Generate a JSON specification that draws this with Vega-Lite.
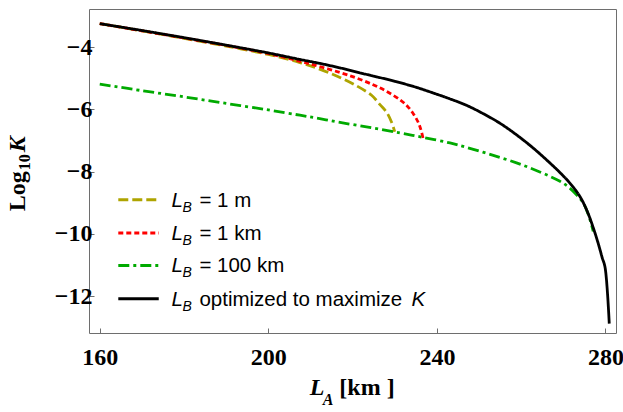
{
  "$schema": "https://vega.github.io/schema/vega-lite/v6.json",
  "width": 527,
  "height": 324,
  "autosize": "none",
  "padding": {"left": 89, "top": 9, "right": 7, "bottom": 79},
  "background": "white",
  "config": {
    "view": {"stroke": "#6e6e6e", "strokeWidth": 1},
    "axis": {
      "domain": false,
      "grid": false,
      "ticks": true,
      "tickSize": -5,
      "tickColor": "#6e6e6e",
      "tickWidth": 1,
      "labelFont": "Liberation Serif",
      "labelFontWeight": "bold",
      "labelFontSize": 24,
      "labelColor": "black",
      "title": null
    }
  },
  "datasets": {
    "curves": [
      {"series": "1 m", "LA": 160, "logK": -3.25},
      {"series": "1 m", "LA": 170, "logK": -3.48},
      {"series": "1 m", "LA": 180, "logK": -3.72},
      {"series": "1 m", "LA": 190, "logK": -3.97},
      {"series": "1 m", "LA": 200, "logK": -4.24},
      {"series": "1 m", "LA": 207.5, "logK": -4.5},
      {"series": "1 m", "LA": 212, "logK": -4.7},
      {"series": "1 m", "LA": 217, "logK": -4.98},
      {"series": "1 m", "LA": 221, "logK": -5.25},
      {"series": "1 m", "LA": 224.5, "logK": -5.55},
      {"series": "1 m", "LA": 226.5, "logK": -5.85},
      {"series": "1 m", "LA": 228.1, "logK": -6.1},
      {"series": "1 m", "LA": 229.2, "logK": -6.4},
      {"series": "1 m", "LA": 230.0, "logK": -6.72},

      {"series": "1 km", "LA": 160, "logK": -3.25},
      {"series": "1 km", "LA": 170, "logK": -3.48},
      {"series": "1 km", "LA": 180, "logK": -3.71},
      {"series": "1 km", "LA": 190, "logK": -3.95},
      {"series": "1 km", "LA": 200, "logK": -4.21},
      {"series": "1 km", "LA": 207.5, "logK": -4.46},
      {"series": "1 km", "LA": 212, "logK": -4.62},
      {"series": "1 km", "LA": 217, "logK": -4.82},
      {"series": "1 km", "LA": 221, "logK": -5.0},
      {"series": "1 km", "LA": 225, "logK": -5.22},
      {"series": "1 km", "LA": 228, "logK": -5.42},
      {"series": "1 km", "LA": 231.2, "logK": -5.69},
      {"series": "1 km", "LA": 233, "logK": -5.9},
      {"series": "1 km", "LA": 234.4, "logK": -6.14},
      {"series": "1 km", "LA": 235.5, "logK": -6.4},
      {"series": "1 km", "LA": 236.2, "logK": -6.65},
      {"series": "1 km", "LA": 236.7, "logK": -6.92},

      {"series": "100 km", "LA": 160, "logK": -5.19},
      {"series": "100 km", "LA": 170, "logK": -5.4},
      {"series": "100 km", "LA": 180, "logK": -5.6},
      {"series": "100 km", "LA": 190, "logK": -5.81},
      {"series": "100 km", "LA": 200, "logK": -6.02},
      {"series": "100 km", "LA": 207.5, "logK": -6.19},
      {"series": "100 km", "LA": 212.2, "logK": -6.3},
      {"series": "100 km", "LA": 217, "logK": -6.42},
      {"series": "100 km", "LA": 224, "logK": -6.58},
      {"series": "100 km", "LA": 231.2, "logK": -6.76},
      {"series": "100 km", "LA": 236.7, "logK": -6.9},
      {"series": "100 km", "LA": 243.1, "logK": -7.08},
      {"series": "100 km", "LA": 247, "logK": -7.22},
      {"series": "100 km", "LA": 253, "logK": -7.46},
      {"series": "100 km", "LA": 258.9, "logK": -7.72},
      {"series": "100 km", "LA": 263, "logK": -7.93},
      {"series": "100 km", "LA": 266.8, "logK": -8.15},
      {"series": "100 km", "LA": 269.2, "logK": -8.31},
      {"series": "100 km", "LA": 271, "logK": -8.47},
      {"series": "100 km", "LA": 273.2, "logK": -8.75},
      {"series": "100 km", "LA": 274.7, "logK": -9.0},
      {"series": "100 km", "LA": 276, "logK": -9.4},
      {"series": "100 km", "LA": 277.1, "logK": -9.92},

      {"series": "optimized", "LA": 160, "logK": -3.25},
      {"series": "optimized", "LA": 170, "logK": -3.47},
      {"series": "optimized", "LA": 180, "logK": -3.7},
      {"series": "optimized", "LA": 190, "logK": -3.94},
      {"series": "optimized", "LA": 200, "logK": -4.19},
      {"series": "optimized", "LA": 207.5, "logK": -4.4},
      {"series": "optimized", "LA": 212, "logK": -4.52},
      {"series": "optimized", "LA": 217, "logK": -4.67},
      {"series": "optimized", "LA": 223, "logK": -4.87},
      {"series": "optimized", "LA": 230, "logK": -5.1},
      {"series": "optimized", "LA": 235, "logK": -5.29},
      {"series": "optimized", "LA": 239, "logK": -5.47},
      {"series": "optimized", "LA": 243, "logK": -5.66},
      {"series": "optimized", "LA": 247, "logK": -5.87},
      {"series": "optimized", "LA": 251, "logK": -6.14},
      {"series": "optimized", "LA": 255, "logK": -6.45},
      {"series": "optimized", "LA": 259, "logK": -6.83},
      {"series": "optimized", "LA": 263, "logK": -7.26},
      {"series": "optimized", "LA": 266.8, "logK": -7.72},
      {"series": "optimized", "LA": 269.2, "logK": -8.03},
      {"series": "optimized", "LA": 271.5, "logK": -8.36},
      {"series": "optimized", "LA": 273.9, "logK": -8.79},
      {"series": "optimized", "LA": 275.6, "logK": -9.25},
      {"series": "optimized", "LA": 277.1, "logK": -9.8},
      {"series": "optimized", "LA": 278.4, "logK": -10.36},
      {"series": "optimized", "LA": 279.2, "logK": -10.75},
      {"series": "optimized", "LA": 279.9, "logK": -11.07},
      {"series": "optimized", "LA": 280.9, "logK": -12.88}
    ]
  },
  "data": {"values": [{}]},
  "layer": [
    {
      "data": {"name": "curves"},
      "mark": {"type": "line", "strokeWidth": 2.8, "strokeCap": "butt", "interpolate": "catmull-rom", "clip": true},
      "encoding": {
        "x": {
          "field": "LA", "type": "quantitative",
          "scale": {"domain": [157.45, 282.5], "nice": false, "zero": false},
          "axis": {"values": [160, 200, 240, 280], "labelPadding": 17}
        },
        "y": {
          "field": "logK", "type": "quantitative",
          "scale": {"domain": [-13.18, -2.78], "nice": false, "zero": false},
          "axis": {"values": [-4, -6, -8, -10, -12], "labelPadding": 2}
        },
        "color": {
          "field": "series", "type": "nominal",
          "scale": {"domain": ["1 m", "1 km", "100 km", "optimized"], "range": ["#aea400", "#ff0000", "#00aa00", "#000000"]},
          "legend": null
        },
        "strokeDash": {
          "field": "series", "type": "nominal",
          "scale": {"domain": ["1 m", "1 km", "100 km", "optimized"], "range": [[10, 4], [5, 3], [11, 4, 3, 4], [1, 0]]},
          "legend": null
        },
        "order": {"field": "LA", "type": "quantitative"}
      }
    },

    {
      "encoding": {"y": {"datum": -8.9}},
      "layer": [
        {"mark": {"type": "rule", "stroke": "#aea400", "strokeWidth": 3, "strokeDash": [10, 4], "strokeCap": "butt"},
         "encoding": {"x": {"datum": 164.4}, "x2": {"datum": 174.0}}},
        {"mark": {"type": "text", "text": "L", "font": "Liberation Sans", "fontStyle": "italic", "fontSize": 20.5, "align": "left", "baseline": "alphabetic", "dy": 7},
         "encoding": {"x": {"datum": 177.0}}},
        {"mark": {"type": "text", "text": "B", "font": "Liberation Sans", "fontStyle": "italic", "fontSize": 14, "align": "left", "baseline": "alphabetic", "dx": 11, "dy": 12},
         "encoding": {"x": {"datum": 177.0}}},
        {"mark": {"type": "text", "text": "= 1  m", "font": "Liberation Sans", "fontSize": 20.5, "align": "left", "baseline": "alphabetic", "dx": 28, "dy": 7},
         "encoding": {"x": {"datum": 177.0}}}
      ]
    },
    {
      "encoding": {"y": {"datum": -9.97}},
      "layer": [
        {"mark": {"type": "rule", "stroke": "#ff0000", "strokeWidth": 3, "strokeDash": [5, 3], "strokeCap": "butt"},
         "encoding": {"x": {"datum": 164.4}, "x2": {"datum": 174.0}}},
        {"mark": {"type": "text", "text": "L", "font": "Liberation Sans", "fontStyle": "italic", "fontSize": 20.5, "align": "left", "baseline": "alphabetic", "dy": 7},
         "encoding": {"x": {"datum": 177.0}}},
        {"mark": {"type": "text", "text": "B", "font": "Liberation Sans", "fontStyle": "italic", "fontSize": 14, "align": "left", "baseline": "alphabetic", "dx": 11, "dy": 12},
         "encoding": {"x": {"datum": 177.0}}},
        {"mark": {"type": "text", "text": "= 1  km", "font": "Liberation Sans", "fontSize": 20.5, "align": "left", "baseline": "alphabetic", "dx": 28, "dy": 7},
         "encoding": {"x": {"datum": 177.0}}}
      ]
    },
    {
      "encoding": {"y": {"datum": -11.01}},
      "layer": [
        {"mark": {"type": "rule", "stroke": "#00aa00", "strokeWidth": 3, "strokeDash": [11, 4, 3, 4], "strokeCap": "butt"},
         "encoding": {"x": {"datum": 164.4}, "x2": {"datum": 174.0}}},
        {"mark": {"type": "text", "text": "L", "font": "Liberation Sans", "fontStyle": "italic", "fontSize": 20.5, "align": "left", "baseline": "alphabetic", "dy": 7},
         "encoding": {"x": {"datum": 177.0}}},
        {"mark": {"type": "text", "text": "B", "font": "Liberation Sans", "fontStyle": "italic", "fontSize": 14, "align": "left", "baseline": "alphabetic", "dx": 11, "dy": 12},
         "encoding": {"x": {"datum": 177.0}}},
        {"mark": {"type": "text", "text": "= 100  km", "font": "Liberation Sans", "fontSize": 20.5, "align": "left", "baseline": "alphabetic", "dx": 28, "dy": 7},
         "encoding": {"x": {"datum": 177.0}}}
      ]
    },
    {
      "encoding": {"y": {"datum": -12.08}},
      "layer": [
        {"mark": {"type": "rule", "stroke": "#000000", "strokeWidth": 3, "strokeCap": "butt"},
         "encoding": {"x": {"datum": 164.4}, "x2": {"datum": 174.0}}},
        {"mark": {"type": "text", "text": "L", "font": "Liberation Sans", "fontStyle": "italic", "fontSize": 20.5, "align": "left", "baseline": "alphabetic", "dy": 7},
         "encoding": {"x": {"datum": 177.0}}},
        {"mark": {"type": "text", "text": "B", "font": "Liberation Sans", "fontStyle": "italic", "fontSize": 14, "align": "left", "baseline": "alphabetic", "dx": 11, "dy": 12},
         "encoding": {"x": {"datum": 177.0}}},
        {"mark": {"type": "text", "text": "optimized to maximize", "font": "Liberation Sans", "fontSize": 20.5, "align": "left", "baseline": "alphabetic", "dx": 28, "dy": 7},
         "encoding": {"x": {"datum": 177.0}}},
        {"mark": {"type": "text", "text": "K", "font": "Liberation Sans", "fontStyle": "italic", "fontSize": 20.5, "align": "left", "baseline": "alphabetic", "dx": 240, "dy": 7},
         "encoding": {"x": {"datum": 177.0}}}
      ]
    },

    {
      "encoding": {"x": {"datum": 209.85}, "y": {"datum": -15.155}},
      "layer": [
        {"mark": {"type": "text", "text": "L", "font": "Liberation Serif", "fontWeight": "bold", "fontStyle": "italic", "fontSize": 24, "align": "left", "baseline": "alphabetic"}},
        {"mark": {"type": "text", "text": "A", "font": "Liberation Serif", "fontWeight": "bold", "fontStyle": "italic", "fontSize": 16, "align": "left", "baseline": "alphabetic", "dx": 13, "dy": 10}},
        {"mark": {"type": "text", "text": "[km ]", "font": "Liberation Serif", "fontWeight": "bold", "fontSize": 24, "align": "left", "baseline": "alphabetic", "dx": 29.5}}
      ]
    },
    {
      "encoding": {"x": {"datum": 142.2}, "y": {"datum": -9.274}},
      "layer": [
        {"mark": {"type": "text", "text": "Log", "font": "Liberation Serif", "fontWeight": "bold", "fontSize": 24, "angle": 270, "align": "left", "baseline": "alphabetic"}},
        {"mark": {"type": "text", "text": "10", "font": "Liberation Serif", "fontWeight": "bold", "fontSize": 16, "angle": 270, "align": "left", "baseline": "alphabetic", "dx": 41, "dy": 5}},
        {"mark": {"type": "text", "text": "K", "font": "Liberation Serif", "fontWeight": "bold", "fontStyle": "italic", "fontSize": 24, "angle": 270, "align": "left", "baseline": "alphabetic", "dx": 59}}
      ]
    }
  ]
}
